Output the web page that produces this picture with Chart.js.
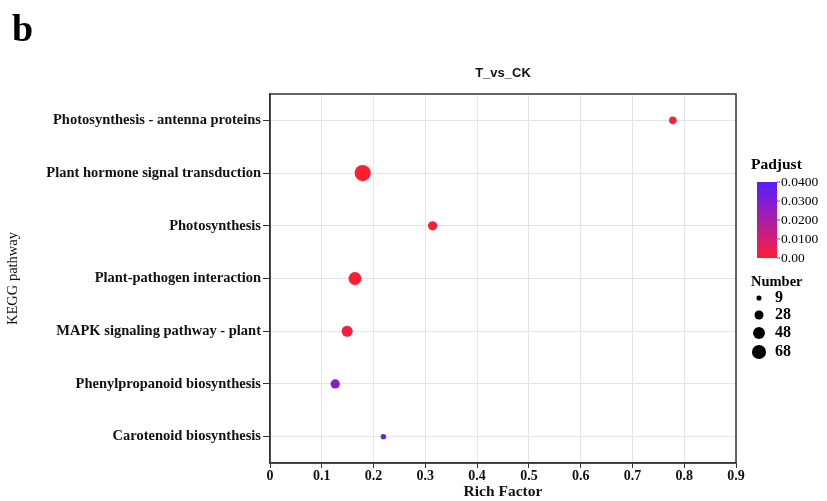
<!DOCTYPE html>
<html>
<head>
<meta charset="utf-8">
<script src="https://cdn.jsdelivr.net/npm/chart.js@4.4.1/dist/chart.umd.min.js"></script>
<style>
    html, body { margin: 0; padding: 0; background: #fff; }
    #wrap { position: relative; width: 827px; height: 501px; }
    #panel { position: absolute; left: 12px; top: 6px; font: bold 38px "Liberation Serif", serif; color: #000; }
</style>
</head>
<body>
<div id="wrap">
    <canvas id="dotChart" width="827" height="501"></canvas>
    <div id="panel">b</div>
</div>
<script>
// data
const pathways = [
    'Photosynthesis - antenna proteins',
    'Plant hormone signal transduction',
    'Photosynthesis',
    'Plant-pathogen interaction',
    'MAPK signaling pathway - plant',
    'Phenylpropanoid biosynthesis',
    'Carotenoid biosynthesis'
];
const richFactor = [0.778, 0.179, 0.314, 0.164, 0.149, 0.126, 0.219];
const geneNumber = [16, 72, 24, 46, 34, 24, 8];
const padjust = [0.0002, 0.0001, 0.0012, 0.0008, 0.0015, 0.0285, 0.0345];

const xTicks = ['0', '0.1', '0.2', '0.3', '0.4', '0.5', '0.6', '0.7', '0.8', '0.9'];
const padjustTicks = ['0.0400', '0.0300', '0.0200', '0.0100', '0.00'];
const numberBreaks = [9, 28, 48, 68];

const padMax = 0.04;
const serif = '"Liberation Serif", "Times New Roman", serif';

function sizeFor(n) {
    return 0.95 * Math.sqrt(n);
}

// red -> blue-violet ramp
function colorFor(p) {
    const t = Math.min(1, p / padMax);
    const r = Math.round(255 - 170 * t);
    const g = 30;
    const b = Math.round(45 + 210 * Math.pow(t, 0.8));
    return 'rgb(' + r + ',' + g + ',' + b + ')';
}

const points = pathways.map((name, i) => ({
    x: richFactor[i],
    y: name,
    r: sizeFor(geneNumber[i])
}));

const legendPlugin = {
    id: 'sideLegend',
    afterDraw(chart) {
        const ctx = chart.ctx;
        const a = chart.chartArea;
        ctx.save();
        // title over the plot panel
        ctx.fillStyle = '#111';
        ctx.font = 'bold 13px "Liberation Sans", Arial, sans-serif';
        ctx.textAlign = 'center';
        ctx.textBaseline = 'middle';
        ctx.fillText('T_vs_CK', (a.left + a.right) / 2, 73);

        // Padjust colour bar
        ctx.fillStyle = '#000';
        ctx.font = 'bold 15.5px ' + serif;
        ctx.textAlign = 'left';
        ctx.fillText('Padjust', 751, 165);

        const bx = 757, by = 182, bw = 20, bh = 76;
        const grad = ctx.createLinearGradient(0, by, 0, by + bh);
        for (let k = 0; k <= 10; k++) {
            grad.addColorStop(k / 10, colorFor(padMax * (1 - k / 10)));
        }
        ctx.fillStyle = grad;
        ctx.fillRect(bx, by, bw, bh);

        ctx.font = '13.5px ' + serif;
        ctx.strokeStyle = '#555';
        ctx.lineWidth = 1;
        padjustTicks.forEach((label, i) => {
            const ty = by + bh * i / (padjustTicks.length - 1);
            ctx.beginPath();
            ctx.moveTo(bx + bw, ty);
            ctx.lineTo(bx + bw + 3, ty);
            ctx.stroke();
            ctx.fillStyle = '#000';
            ctx.fillText(label, bx + bw + 4, ty);
        });

        // Number size legend
        ctx.font = 'bold 14.5px ' + serif;
        ctx.fillText('Number', 751, 282);
        ctx.font = 'bold 16px ' + serif;
        const ys = [298, 315, 333, 352];
        numberBreaks.forEach((n, i) => {
            ctx.fillStyle = '#000';
            ctx.beginPath();
            ctx.arc(759, ys[i], sizeFor(n) * 0.9, 0, Math.PI * 2);
            ctx.fill();
            ctx.fillText(String(n), 775, ys[i]);
        });
        ctx.restore();
    }
};

const dotChartConfig = {
    type: 'bubble',
    data: {
        datasets: [{
            data: points,
            backgroundColor: padjust.map(colorFor),
            borderWidth: 0,
            hoverBorderWidth: 0
        }]
    },
    options: {
        responsive: false,
        animation: false,
        layout: {
            padding: {
                top: 94,
                bottom: 0,
                left: 0,
                right: 91
            }
        },
        plugins: {
            legend: {
                display: false
            },
            tooltip: {
                enabled: false
            },
            title: {
                display: false
            }
        },
        scales: {
            x: {
                type: 'linear',
                min: 0,
                max: 0.9,
                afterFit(scale) { scale.height = 38; },
                afterBuildTicks(scale) {
                    scale.ticks = xTicks.map(v => ({ value: parseFloat(v) }));
                },
                ticks: {
                    color: '#111',
                    padding: 0,
                    maxRotation: 0,
                    font: { family: serif, size: 14, weight: 'bold' },
                    callback: (v, i) => xTicks[i]
                },
                grid: {
                    color: '#e4e4e4',
                    tickColor: '#333',
                    tickLength: 5
                },
                border: { color: '#333', width: 1.5 },
                title: {
                    display: true,
                    text: 'Rich Factor',
                    color: '#111',
                    padding: 0,
                    font: { family: serif, size: 15.5, weight: 'bold' }
                }
            },
            y: {
                type: 'category',
                labels: pathways,
                offset: true,
                afterFit(scale) { scale.width = 270; },
                ticks: {
                    color: '#111',
                    padding: 2,
                    font: { family: serif, size: 14.5, weight: 'bold' }
                },
                grid: {
                    color: '#e4e4e4',
                    tickColor: '#333',
                    tickLength: 7,
                    offset: false
                },
                border: { color: '#333', width: 1.5 },
                title: {
                    display: true,
                    text: 'KEGG pathway',
                    color: '#111',
                    padding: 4,
                    font: { family: serif, size: 14.5 }
                }
            }
        }
    },
    plugins: [legendPlugin, {
        id: 'frame',
        afterDatasetsDraw(chart) {
            const a = chart.chartArea;
            const ctx = chart.ctx;
            ctx.save();
            ctx.strokeStyle = '#333';
            ctx.lineWidth = 1.5;
            ctx.strokeRect(a.left, a.top, a.right - a.left, a.bottom - a.top);
            ctx.restore();
        }
    }]
};

const dotChart = new Chart(document.getElementById('dotChart'), dotChartConfig);
</script>
</body>
</html>
